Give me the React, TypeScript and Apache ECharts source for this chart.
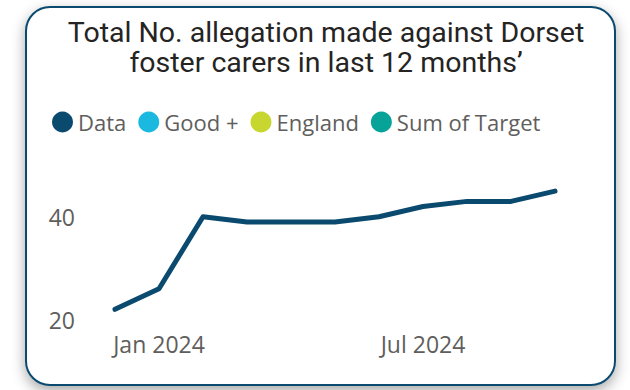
import React, { useEffect, useRef } from "react";
import * as echarts from "echarts";

const months = [
  "Dec 2023", "Jan 2024", "Feb 2024", "Mar 2024", "Apr 2024", "May 2024",
  "Jun 2024", "Jul 2024", "Aug 2024", "Sep 2024", "Oct 2024",
];
const dataValues = [22, 26, 40, 39, 39, 39, 40, 42, 43, 43, 45];
const shownLabels = ["Jan 2024", "Jul 2024"];
const legendNames = ["Data", "Good +", "England", "Sum of Target"];
const legendColors = ["#0B4A6F", "#1BB8DF", "#C8D630", "#07A398"];
const yTicks = [20, 40];

export default function App() {
  const ref = useRef<HTMLDivElement>(null);
  useEffect(() => {
    if (!ref.current) return;
    const chart = echarts.init(ref.current, undefined, { renderer: "svg" });
    chart.setOption({
      animation: false,
      backgroundColor: "transparent",
      title: {
        text: "Total No. allegation made against Dorset\nfoster carers in last 12 months’",
        left: 321,
        textAlign: "center",
        top: 12,
        textStyle: {
          fontFamily: "Roboto",
          fontWeight: "normal",
          fontSize: 28.5,
          lineHeight: 30,
          color: "#252423",
        },
      },
      legend: {
        left: 47,
        top: 106,
        icon: "circle",
        itemWidth: 21,
        itemHeight: 21,
        itemGap: 12,
        data: legendNames,
        textStyle: { fontFamily: "Open Sans", fontSize: 22, color: "#605E5C" },
      },
      grid: { left: 115, right: 75, top: 165.4, bottom: 70.4 },
      xAxis: {
        type: "category",
        data: months,
        boundaryGap: false,
        axisLine: { show: false },
        axisTick: { show: false },
        axisLabel: {
          interval: (i: number, v: string) => shownLabels.includes(v),
          margin: 13,
          fontFamily: "Open Sans",
          fontSize: 23,
          color: "#605E5C",
        },
      },
      yAxis: {
        type: "value",
        min: 20,
        max: 50,
        interval: 20,
        splitLine: { show: false },
        axisLine: { show: false },
        axisTick: { show: false },
        axisLabel: {
          margin: 40,
          fontFamily: "Open Sans",
          fontSize: 23,
          color: "#605E5C",
          formatter: (v: number) => (yTicks.includes(v) ? String(v) : ""),
        },
      },
      series: legendNames.map((name, i) => ({
        name,
        type: "line",
        data: i === 0 ? dataValues : [],
        color: legendColors[i],
        symbol: "none",
        lineStyle: { width: 5, color: legendColors[i], cap: "round", join: "round" },
      })),
    });
    return () => chart.dispose();
  }, []);

  return (
    <div style={{ position: "fixed", left: 0, top: 0, width: 630, height: 390, background: "#ffffff", overflow: "hidden" }}>
      <div
        style={{
          position: "absolute",
          left: 25,
          top: 6,
          width: 591,
          height: 380,
          boxSizing: "border-box",
          border: "2px solid #0B4A6F",
          borderRadius: 25,
          background: "#ffffff",
          boxShadow: "0px 5px 14px rgba(0,0,0,0.35)",
        }}
      />
      <div ref={ref} style={{ position: "absolute", left: 0, top: 0, width: 630, height: 390 }} />
    </div>
  );
}
